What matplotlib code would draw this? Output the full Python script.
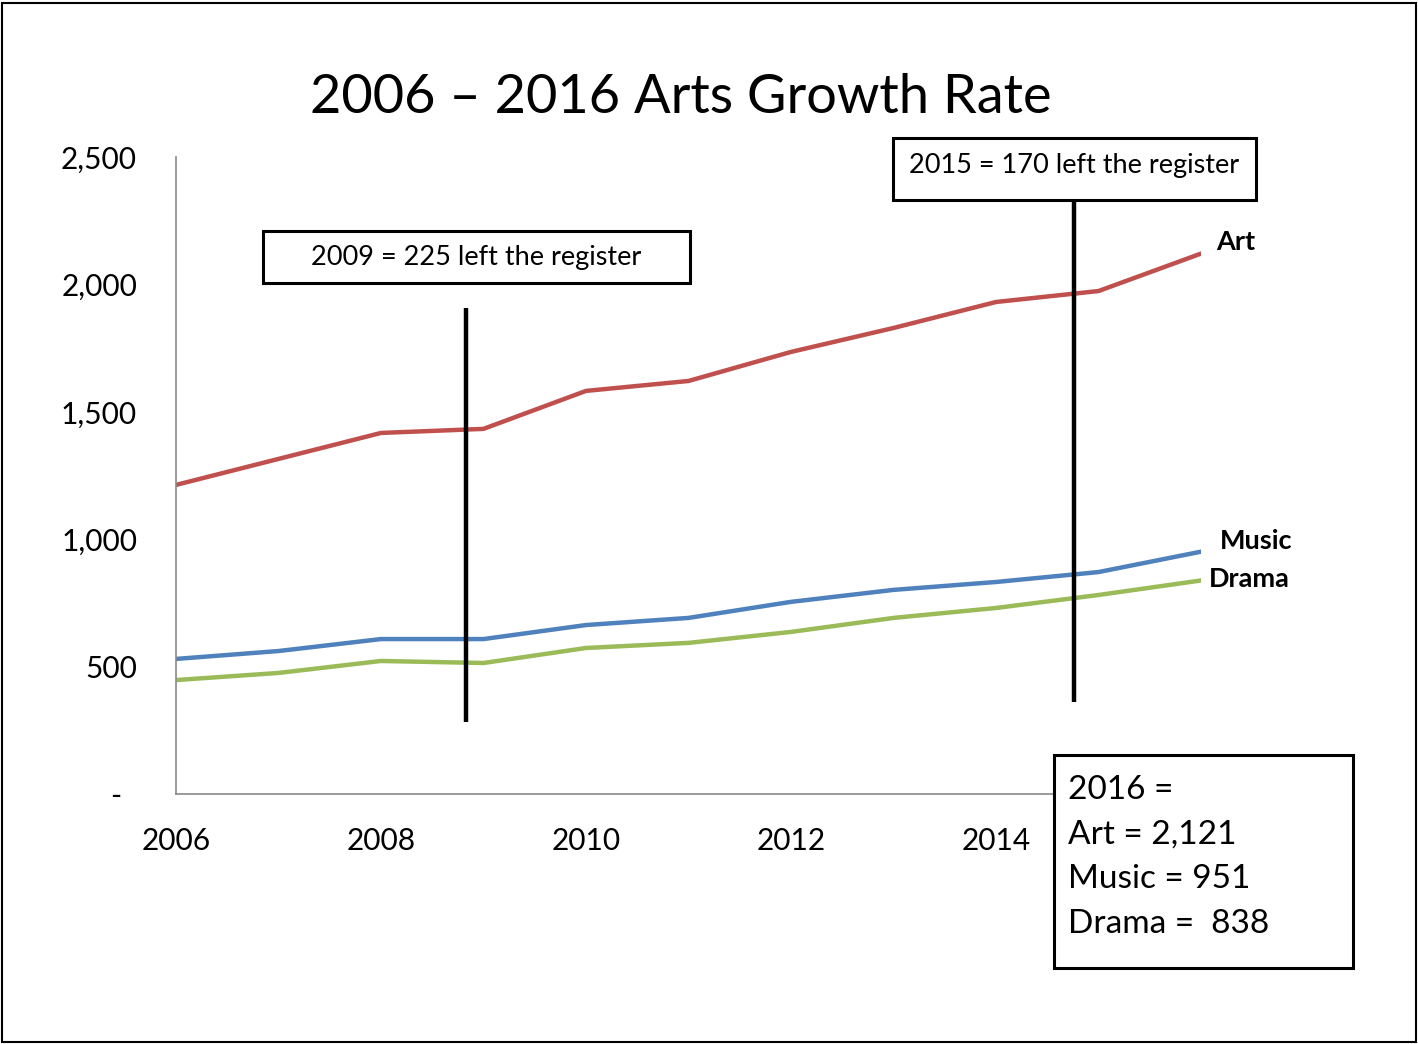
import matplotlib.pyplot as plt
from matplotlib.patches import Rectangle

plt.rcParams['font.family'] = ['Lato', 'DejaVu Sans']

years = [2006, 2007, 2008, 2009, 2010, 2011, 2012, 2013, 2014, 2015, 2016]
art = [1213, 1315, 1417, 1433, 1582, 1621, 1735, 1829, 1931, 1974, 2121]
music = [530, 561, 608, 608, 663, 691, 754, 801, 832, 871, 951]
drama = [447, 475, 522, 514, 573, 593, 636, 691, 730, 781, 838]

yticks = [0, 500, 1000, 1500, 2000, 2500]
ytick_labels = ['-  ', '500', '1,000', '1,500', '2,000', '2,500']
xticks = [2006, 2008, 2010, 2012, 2014]

fig = plt.figure(figsize=(14.18, 10.44), dpi=100)
ax = fig.add_axes([0.1241, 0.2395, 0.7229, 0.6101])

ax.plot(years, art, color='#C0504D', lw=3.2, solid_capstyle='round')
ax.plot(years, music, color='#4F81BD', lw=3.2, solid_capstyle='round')
ax.plot(years, drama, color='#9BBB59', lw=3.2, solid_capstyle='round')

ax.set_xlim(2006, 2016)
ax.set_ylim(0, 2500)
ax.set_yticks(yticks)
ax.set_yticklabels(ytick_labels)
ax.set_xticks(xticks)
ax.set_xticklabels([str(x) for x in xticks])
ax.tick_params(axis='y', length=0, pad=28, labelsize=21.5)
ax.tick_params(axis='x', length=0, pad=24, labelsize=21.5)
for s in ['top', 'right']:
    ax.spines[s].set_visible(False)
for s in ['left', 'bottom']:
    ax.spines[s].set_color('#898989')
    ax.spines[s].set_linewidth(1.2)

# series labels
ax.text(2016.15, art[-1] + 45, 'Art', fontsize=19.5, fontweight='bold', va='center', ha='left')
ax.text(2016.18, music[-1] + 40, 'Music', fontsize=19.5, fontweight='bold', va='center', ha='left')
ax.text(2016.08, drama[-1] + 5, 'Drama', fontsize=19.5, fontweight='bold', va='center', ha='left')

# vertical marker lines
ax.vlines(2008.83, 283, 1908, color='black', lw=3.2, clip_on=False)
ax.vlines(2014.76, 361, 2331, color='black', lw=3.2, clip_on=False)

fig.text(0.48, 0.907, '2006 \u2013 2016 Arts Growth Rate', fontsize=39, ha='center', va='center')

W, H = 1418, 1044


def box(x0, y0, x1, y1, lw=2.2):
    r = Rectangle((x0 / W, 1 - y1 / H), (x1 - x0) / W, (y1 - y0) / H,
                  transform=fig.transFigure, facecolor='white', edgecolor='black',
                  lw=lw, zorder=5)
    fig.add_artist(r)


box(263, 231, 690, 283)
fig.text(476 / W, 1 - 257 / H, '2009 = 225 left the register', fontsize=19.5,
         ha='center', va='center', zorder=6)
box(893, 138, 1256, 200)
fig.text(1074 / W, 1 - 165 / H, '2015 = 170 left the register', fontsize=19.5,
         ha='center', va='center', zorder=6)
box(1054, 755, 1353, 968)
fig.text(1068 / W, 1 - 857 / H, '2016 =\nArt = 2,121\nMusic = 951\nDrama =  838',
         fontsize=24, ha='left', va='center', linespacing=1.62, zorder=6)

# outer border
fig.add_artist(Rectangle((1.5 / W, 2.5 / H), (W - 3.5) / W, (H - 5) / H,
                         transform=fig.transFigure, facecolor='none',
                         edgecolor='black', lw=1.5, zorder=10))

fig.savefig('out.png', dpi=100)
